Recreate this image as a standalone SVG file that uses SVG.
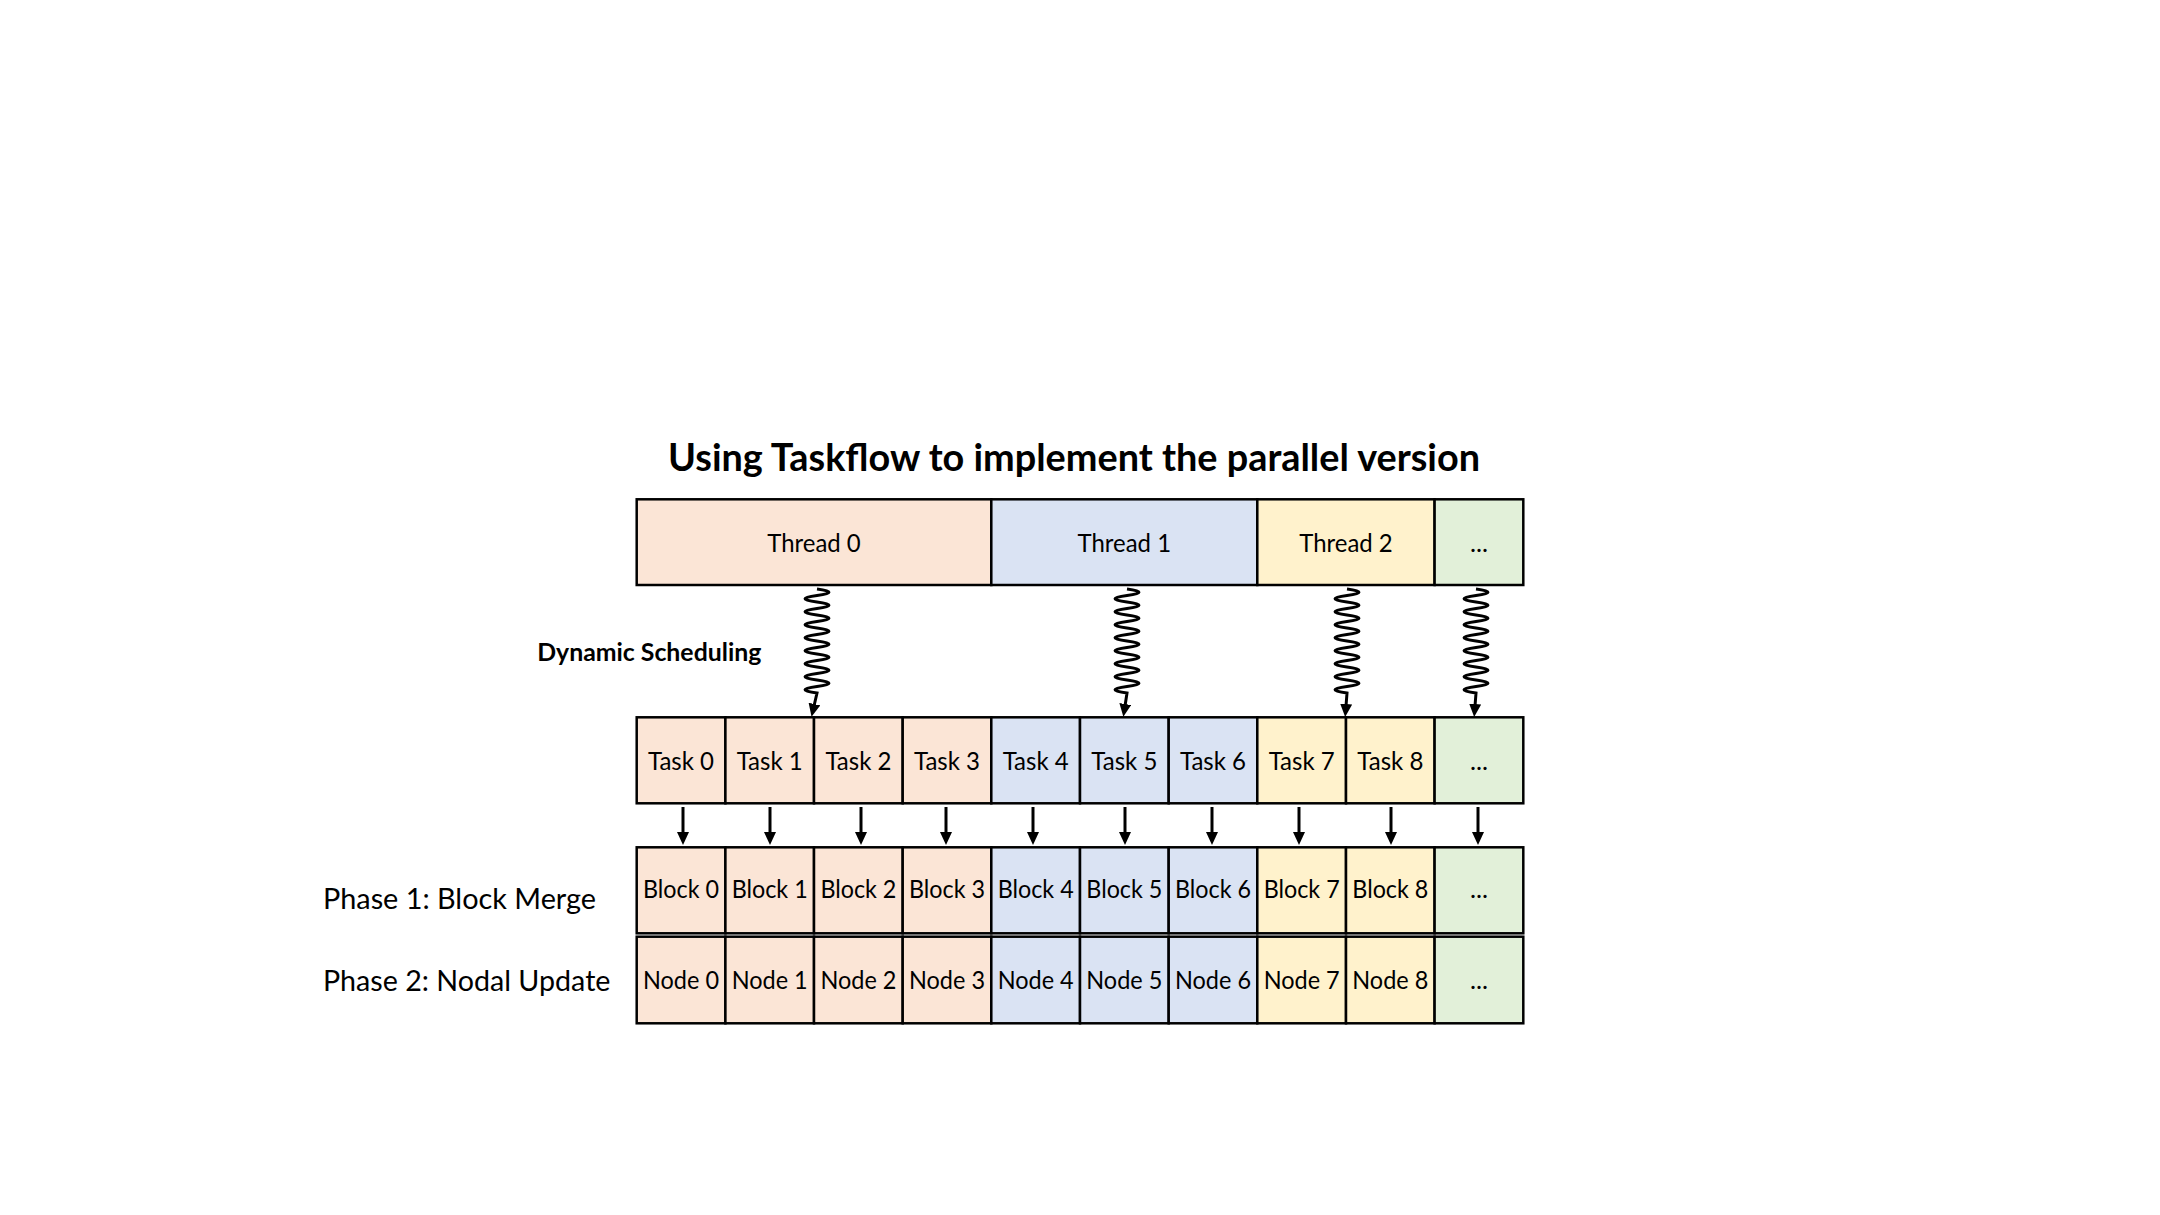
<svg xmlns="http://www.w3.org/2000/svg" width="2160" height="1215" viewBox="0 0 2160 1215">
  <defs>
    <marker id="ah" viewBox="0 0 13 12" markerWidth="13" markerHeight="12" refX="2" refY="6" orient="auto" markerUnits="userSpaceOnUse">
      <path d="M0,0 L13,6 L0,12 z" fill="#000"/>
    </marker>
    <style>
      .box { stroke: #000; stroke-width: 2.5; }
      .p { fill: #FBE5D6; }
      .b { fill: #DAE3F3; }
      .y { fill: #FFF2CC; }
      .g { fill: #E2F0D9; }
      .t { font-family: Lato, "Liberation Sans", sans-serif; font-size: 25.5px; fill: #000; text-anchor: middle; }
      .lbl { font-family: Lato, "Liberation Sans", sans-serif; font-size: 29.5px; fill: #000; }
      .bold { font-family: Lato, "Liberation Sans", sans-serif; font-weight: bold; fill: #000; }
      .conn { fill: none; stroke: #000; stroke-width: 3; marker-end: url(#ah); }
    </style>
  </defs>
  <rect width="2160" height="1215" fill="#fff"/>

  <g id="title">
    <text class="bold" x="1074" y="471" font-size="38.5" text-anchor="middle" textLength="812" lengthAdjust="spacingAndGlyphs">Using Taskflow to implement the parallel version</text>
  </g>

  <g id="label-dynamic">
    <text class="bold" x="537.3" y="661" font-size="25" textLength="224" lengthAdjust="spacingAndGlyphs">Dynamic Scheduling</text>
  </g>
  <g id="label-phase1">
    <text class="lbl" x="323" y="909" textLength="273" lengthAdjust="spacingAndGlyphs">Phase 1: Block Merge</text>
  </g>
  <g id="label-phase2">
    <text class="lbl" x="323" y="991" textLength="287.5" lengthAdjust="spacingAndGlyphs">Phase 2: Nodal Update</text>
  </g>

  <!-- Threads -->
  <g id="thread0"><rect class="box p" x="636.7" y="499.3" width="354.6" height="85.7"/><text class="t" x="814" y="552" textLength="93.5" lengthAdjust="spacingAndGlyphs">Thread 0</text></g>
  <g id="thread1"><rect class="box b" x="991.3" y="499.3" width="266" height="85.7"/><text class="t" x="1124.3" y="552" textLength="93.5" lengthAdjust="spacingAndGlyphs">Thread 1</text></g>
  <g id="thread2"><rect class="box y" x="1257.3" y="499.3" width="177.3" height="85.7"/><text class="t" x="1346" y="552" textLength="93.5" lengthAdjust="spacingAndGlyphs">Thread 2</text></g>
  <g id="thread-more"><rect class="box g" x="1434.6" y="499.3" width="88.7" height="85.7"/><text class="t" x="1479" y="552">...</text></g>

  <!-- Tasks -->
  <g id="task0"><rect class="box p" x="636.7" y="717.3" width="88.7" height="86"/><text class="t" x="681" y="770" textLength="66" lengthAdjust="spacingAndGlyphs">Task 0</text></g>
  <g id="task1"><rect class="box p" x="725.4" y="717.3" width="88.6" height="86"/><text class="t" x="769.7" y="770" textLength="66" lengthAdjust="spacingAndGlyphs">Task 1</text></g>
  <g id="task2"><rect class="box p" x="814" y="717.3" width="88.7" height="86"/><text class="t" x="858.4" y="770" textLength="66" lengthAdjust="spacingAndGlyphs">Task 2</text></g>
  <g id="task3"><rect class="box p" x="902.7" y="717.3" width="88.6" height="86"/><text class="t" x="947" y="770" textLength="66" lengthAdjust="spacingAndGlyphs">Task 3</text></g>
  <g id="task4"><rect class="box b" x="991.3" y="717.3" width="88.7" height="86"/><text class="t" x="1035.7" y="770" textLength="66" lengthAdjust="spacingAndGlyphs">Task 4</text></g>
  <g id="task5"><rect class="box b" x="1080" y="717.3" width="88.7" height="86"/><text class="t" x="1124.3" y="770" textLength="66" lengthAdjust="spacingAndGlyphs">Task 5</text></g>
  <g id="task6"><rect class="box b" x="1168.7" y="717.3" width="88.6" height="86"/><text class="t" x="1213" y="770" textLength="66" lengthAdjust="spacingAndGlyphs">Task 6</text></g>
  <g id="task7"><rect class="box y" x="1257.3" y="717.3" width="88.7" height="86"/><text class="t" x="1301.7" y="770" textLength="66" lengthAdjust="spacingAndGlyphs">Task 7</text></g>
  <g id="task8"><rect class="box y" x="1346" y="717.3" width="88.6" height="86"/><text class="t" x="1390.3" y="770" textLength="66" lengthAdjust="spacingAndGlyphs">Task 8</text></g>
  <g id="task-more"><rect class="box g" x="1434.6" y="717.3" width="88.7" height="86"/><text class="t" x="1479" y="770">...</text></g>

  <!-- Blocks -->
  <g id="block0"><rect class="box p" x="636.7" y="847.3" width="88.7" height="86"/><text class="t" x="681" y="898" textLength="76" lengthAdjust="spacingAndGlyphs">Block 0</text></g>
  <g id="block1"><rect class="box p" x="725.4" y="847.3" width="88.6" height="86"/><text class="t" x="769.7" y="898" textLength="76" lengthAdjust="spacingAndGlyphs">Block 1</text></g>
  <g id="block2"><rect class="box p" x="814" y="847.3" width="88.7" height="86"/><text class="t" x="858.4" y="898" textLength="76" lengthAdjust="spacingAndGlyphs">Block 2</text></g>
  <g id="block3"><rect class="box p" x="902.7" y="847.3" width="88.6" height="86"/><text class="t" x="947" y="898" textLength="76" lengthAdjust="spacingAndGlyphs">Block 3</text></g>
  <g id="block4"><rect class="box b" x="991.3" y="847.3" width="88.7" height="86"/><text class="t" x="1035.7" y="898" textLength="76" lengthAdjust="spacingAndGlyphs">Block 4</text></g>
  <g id="block5"><rect class="box b" x="1080" y="847.3" width="88.7" height="86"/><text class="t" x="1124.3" y="898" textLength="76" lengthAdjust="spacingAndGlyphs">Block 5</text></g>
  <g id="block6"><rect class="box b" x="1168.7" y="847.3" width="88.6" height="86"/><text class="t" x="1213" y="898" textLength="76" lengthAdjust="spacingAndGlyphs">Block 6</text></g>
  <g id="block7"><rect class="box y" x="1257.3" y="847.3" width="88.7" height="86"/><text class="t" x="1301.7" y="898" textLength="76" lengthAdjust="spacingAndGlyphs">Block 7</text></g>
  <g id="block8"><rect class="box y" x="1346" y="847.3" width="88.6" height="86"/><text class="t" x="1390.3" y="898" textLength="76" lengthAdjust="spacingAndGlyphs">Block 8</text></g>
  <g id="block-more"><rect class="box g" x="1434.6" y="847.3" width="88.7" height="86"/><text class="t" x="1479" y="898">...</text></g>

  <!-- Nodes -->
  <g id="node0"><rect class="box p" x="636.7" y="936.7" width="88.7" height="86.6"/><text class="t" x="681" y="988.5" textLength="76" lengthAdjust="spacingAndGlyphs">Node 0</text></g>
  <g id="node1"><rect class="box p" x="725.4" y="936.7" width="88.6" height="86.6"/><text class="t" x="769.7" y="988.5" textLength="76" lengthAdjust="spacingAndGlyphs">Node 1</text></g>
  <g id="node2"><rect class="box p" x="814" y="936.7" width="88.7" height="86.6"/><text class="t" x="858.4" y="988.5" textLength="76" lengthAdjust="spacingAndGlyphs">Node 2</text></g>
  <g id="node3"><rect class="box p" x="902.7" y="936.7" width="88.6" height="86.6"/><text class="t" x="947" y="988.5" textLength="76" lengthAdjust="spacingAndGlyphs">Node 3</text></g>
  <g id="node4"><rect class="box b" x="991.3" y="936.7" width="88.7" height="86.6"/><text class="t" x="1035.7" y="988.5" textLength="76" lengthAdjust="spacingAndGlyphs">Node 4</text></g>
  <g id="node5"><rect class="box b" x="1080" y="936.7" width="88.7" height="86.6"/><text class="t" x="1124.3" y="988.5" textLength="76" lengthAdjust="spacingAndGlyphs">Node 5</text></g>
  <g id="node6"><rect class="box b" x="1168.7" y="936.7" width="88.6" height="86.6"/><text class="t" x="1213" y="988.5" textLength="76" lengthAdjust="spacingAndGlyphs">Node 6</text></g>
  <g id="node7"><rect class="box y" x="1257.3" y="936.7" width="88.7" height="86.6"/><text class="t" x="1301.7" y="988.5" textLength="76" lengthAdjust="spacingAndGlyphs">Node 7</text></g>
  <g id="node8"><rect class="box y" x="1346" y="936.7" width="88.6" height="86.6"/><text class="t" x="1390.3" y="988.5" textLength="76" lengthAdjust="spacingAndGlyphs">Node 8</text></g>
  <g id="node-more"><rect class="box g" x="1434.6" y="936.7" width="88.7" height="86.6"/><text class="t" x="1479" y="988.5">...</text></g>

  <g id="connectors">
    <!-- wavy scheduling arrows: thread -> task -->
    <path class="conn" d="M817,589 q24,3.25 0,6.5 t0,6.5 t0,6.5 t0,6.5 t0,6.5 t0,6.5 t0,6.5 t0,6.5 t0,6.5 t0,6.5 t0,6.5 t0,6.5 t0,6.5 t0,6.5 t0,6.5 t0,6.5 L814,706"/>
    <path class="conn" d="M1127,589 q24,3.25 0,6.5 t0,6.5 t0,6.5 t0,6.5 t0,6.5 t0,6.5 t0,6.5 t0,6.5 t0,6.5 t0,6.5 t0,6.5 t0,6.5 t0,6.5 t0,6.5 t0,6.5 t0,6.5 L1125,706"/>
    <path class="conn" d="M1347,589 q24,3.25 0,6.5 t0,6.5 t0,6.5 t0,6.5 t0,6.5 t0,6.5 t0,6.5 t0,6.5 t0,6.5 t0,6.5 t0,6.5 t0,6.5 t0,6.5 t0,6.5 t0,6.5 t0,6.5 L1346,706"/>
    <path class="conn" d="M1476,589 q24,3.25 0,6.5 t0,6.5 t0,6.5 t0,6.5 t0,6.5 t0,6.5 t0,6.5 t0,6.5 t0,6.5 t0,6.5 t0,6.5 t0,6.5 t0,6.5 t0,6.5 t0,6.5 t0,6.5 L1475,706"/>
    <!-- task -> block arrows -->
    <path class="conn" d="M683,807 L683,834"/>
    <path class="conn" d="M770,807 L770,834"/>
    <path class="conn" d="M861,807 L861,834"/>
    <path class="conn" d="M946,807 L946,834"/>
    <path class="conn" d="M1033,807 L1033,834"/>
    <path class="conn" d="M1125,807 L1125,834"/>
    <path class="conn" d="M1212,807 L1212,834"/>
    <path class="conn" d="M1299,807 L1299,834"/>
    <path class="conn" d="M1391,807 L1391,834"/>
    <path class="conn" d="M1478,807 L1478,834"/>
  </g>
</svg>
